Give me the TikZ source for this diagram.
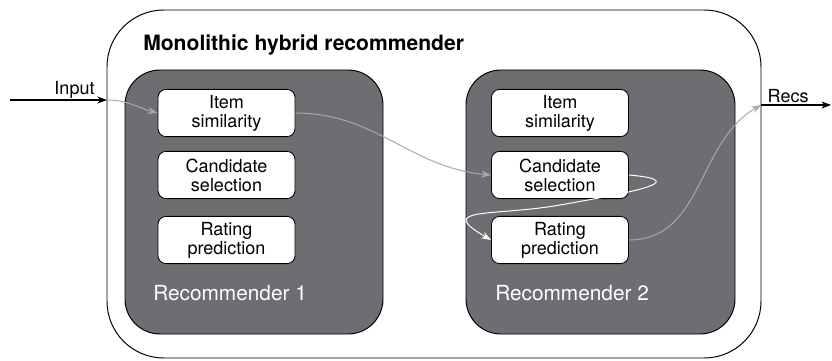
\documentclass[tikz,border=0pt]{standalone}
\usepackage{fontspec}
\setmainfont{TeX Gyre Heros}
\usepackage{tikz}
\usetikzlibrary{arrows.meta, positioning}
\definecolor{recgray}{HTML}{6D6E71}
\definecolor{flowgray}{HTML}{A7A9AC}

\begin{document}
\begin{tikzpicture}[
    outerbox/.style={rectangle, draw=black, line width=0.7pt, rounded corners=1.42cm,
                    minimum width=16.35cm, minimum height=8.7cm},
    recbox/.style={rectangle, draw=black, fill=recgray, line width=0.7pt,
                  rounded corners=0.875cm, minimum height=6.6cm},
    stage/.style={rectangle, draw=black, fill=white, line width=0.6pt, rounded corners=0.2cm,
                 minimum width=3.425cm, minimum height=1.18cm, inner sep=1pt,
                 font=\fontsize{12.8}{13.6}\selectfont, align=center},
    reclabel/.style={anchor=west, text=white, inner sep=0pt,
                    font=\fontsize{14.8}{16}\selectfont},
    flow/.style={draw=flowgray, line width=0.7pt, -{Stealth[length=7pt, width=5pt]}},
    loopflow/.style={draw=white, line width=0.7pt, -{Stealth[length=7pt, width=5pt]}},
    io/.style={draw=black, line width=0.9pt, -{Stealth[length=7pt, width=5pt]}},
    iolabel/.style={font=\fontsize{12.8}{14}\selectfont, inner sep=1pt}
]
\useasboundingbox (0,0) rectangle (20.8,9);

% Outer hybrid box
\node[outerbox] at (10.85,4.4) (hybrid) {};
\node[anchor=west, inner sep=0pt, font=\fontsize{15}{16}\selectfont\bfseries]
      at (3.575,7.875) (title) {Monolithic hybrid recommender};

% Recommenders
\node[recbox, minimum width=6.45cm] at (6.35,3.95) (rec1) {};
\node[recbox, minimum width=6.725cm] at (15.0125,3.95) (rec2) {};

% Stages of recommender 1
\node[stage] at (5.6625,6.175) (item1) {Item\\similarity};
\node[stage] at (5.6625,4.625) (cand1) {Candidate\\selection};
\node[stage] at (5.6625,3.0) (rate1) {Rating\\prediction};
\node[reclabel] at (3.825,1.675) (lab1) {Recommender 1};

% Stages of recommender 2
\node[stage] at (14.0,6.175) (item2) {Item\\similarity};
\node[stage] at (14.0,4.625) (cand2) {Candidate\\selection};
\node[stage] at (14.0,3.0) (rate2) {Rating\\prediction};
\node[reclabel] at (12.375,1.675) (lab2) {Recommender 2};

% Input and output points
\coordinate (src) at (0.25,6.5);
\coordinate (in) at (2.675,6.5);
\coordinate (out) at (19.025,6.375);
\coordinate (dst) at (20.78,6.375);
\coordinate (turn) at (14.0,3.875);

% Input
\draw[io] (src) -- node[iolabel, above, xshift=0.4cm] {Input} (in);
\draw[flow] (in) to[out=0, in=165] (item1.west);

% Between recommenders
\draw[flow] (item1.east) to[out=0, in=175] (cand2.west);
\draw[white, line width=0.7pt] (cand2.east) to[out=-5, in=10, looseness=2.3] (turn);
\draw[loopflow] (turn) to[out=190, in=150, looseness=2.2] (rate2.west);
\draw[flow] (rate2.east) to[out=0, in=-150] (out);

% Output
\draw[io] (out) -- node[iolabel, above, xshift=-0.2cm] {Recs} (dst);

\end{tikzpicture}
\end{document}
